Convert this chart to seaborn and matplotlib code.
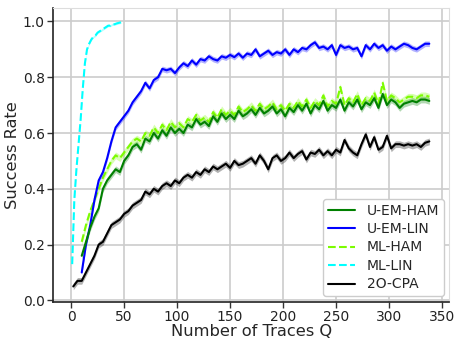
import numpy as np
import matplotlib
matplotlib.use("Agg")
import matplotlib.pyplot as plt
import seaborn as sns

# success rate vs number of traces
# U-EM curves and ML-HAM: Q = 10, 14, ..., 338
u_em_lin = [0.10, 0.20, 0.27, 0.36, 0.43, 0.46, 0.51, 0.57, 0.62, 0.64,
            0.66, 0.68, 0.71, 0.73, 0.75, 0.78, 0.76, 0.79, 0.80, 0.83,
            0.825, 0.83, 0.815, 0.835, 0.85, 0.84, 0.86, 0.845, 0.865, 0.86,
            0.875, 0.865, 0.86, 0.875, 0.87, 0.88, 0.872, 0.885, 0.87, 0.885,
            0.88, 0.90, 0.875, 0.885, 0.895, 0.88, 0.89, 0.885, 0.90, 0.88,
            0.90, 0.89, 0.905, 0.90, 0.915, 0.925, 0.905, 0.91, 0.90, 0.915,
            0.88, 0.915, 0.905, 0.91, 0.90, 0.905, 0.875, 0.915, 0.90, 0.92,
            0.905, 0.915, 0.895, 0.91, 0.90, 0.91, 0.92, 0.915, 0.905, 0.90,
            0.91, 0.92, 0.92]
u_em_ham = [0.16, 0.21, 0.26, 0.30, 0.33, 0.40, 0.43, 0.45, 0.47, 0.46,
            0.50, 0.52, 0.55, 0.56, 0.54, 0.58, 0.57, 0.60, 0.58, 0.61,
            0.59, 0.62, 0.60, 0.615, 0.60, 0.63, 0.62, 0.65, 0.63, 0.64,
            0.625, 0.66, 0.64, 0.67, 0.65, 0.665, 0.65, 0.68, 0.66, 0.67,
            0.685, 0.665, 0.69, 0.67, 0.68, 0.695, 0.67, 0.685, 0.66, 0.69,
            0.675, 0.70, 0.68, 0.705, 0.67, 0.70, 0.685, 0.715, 0.68, 0.70,
            0.69, 0.72, 0.68, 0.71, 0.695, 0.72, 0.685, 0.71, 0.70, 0.725,
            0.69, 0.74, 0.70, 0.72, 0.71, 0.69, 0.705, 0.71, 0.715, 0.71,
            0.72, 0.72, 0.715]
ml_ham = [0.21, 0.27, 0.32, 0.36, 0.40, 0.44, 0.47, 0.50, 0.52, 0.51,
          0.53, 0.55, 0.57, 0.58, 0.57, 0.60, 0.59, 0.62, 0.60, 0.63,
          0.61, 0.64, 0.62, 0.635, 0.62, 0.65, 0.64, 0.665, 0.645, 0.655,
          0.64, 0.675, 0.655, 0.685, 0.665, 0.68, 0.665, 0.695, 0.675, 0.685,
          0.70, 0.68, 0.705, 0.685, 0.695, 0.71, 0.685, 0.70, 0.68, 0.705,
          0.69, 0.715, 0.695, 0.72, 0.69, 0.715, 0.70, 0.735, 0.695, 0.715,
          0.705, 0.765, 0.70, 0.725, 0.71, 0.74, 0.70, 0.725, 0.715, 0.745,
          0.705, 0.78, 0.715, 0.735, 0.725, 0.71, 0.72, 0.73, 0.73, 0.725,
          0.735, 0.735, 0.73]
q_em = list(range(10, 339, 4))

# 2O-CPA: Q = 2, 6, ..., 338
cpa = [0.05, 0.07, 0.07, 0.10, 0.13, 0.16, 0.20, 0.21, 0.24, 0.27,
       0.28, 0.29, 0.31, 0.32, 0.34, 0.35, 0.36, 0.39, 0.38, 0.40,
       0.39, 0.41, 0.42, 0.41, 0.43, 0.42, 0.44, 0.45, 0.44, 0.46,
       0.45, 0.47, 0.46, 0.48, 0.47, 0.48, 0.49, 0.475, 0.50, 0.485,
       0.49, 0.50, 0.51, 0.49, 0.52, 0.50, 0.47, 0.51, 0.52, 0.50,
       0.51, 0.53, 0.51, 0.525, 0.535, 0.505, 0.53, 0.525, 0.54, 0.52,
       0.535, 0.52, 0.54, 0.53, 0.575, 0.545, 0.53, 0.52, 0.56, 0.595,
       0.55, 0.585, 0.54, 0.55, 0.59, 0.545, 0.56, 0.56, 0.555, 0.56,
       0.555, 0.56, 0.55, 0.565, 0.57]
q_cpa = list(range(2, 339, 4))

# ML-LIN: Q = 1, 3, ..., 47
ml_lin = [0.13, 0.36, 0.47, 0.56, 0.65, 0.76, 0.85, 0.90, 0.92, 0.935,
          0.945, 0.95, 0.96, 0.965, 0.97, 0.975, 0.98, 0.985, 0.985, 0.99,
          0.99, 0.993, 0.995, 0.997]
q_ml_lin = list(range(1, 48, 2))

# half width of the shaded band per curve
band = {"U-EM-HAM": 0.012, "U-EM-LIN": 0.01, "ML-HAM": 0.012,
        "ML-LIN": 0.004, "2O-CPA": 0.012}

series = [
    ("U-EM-HAM", q_em, u_em_ham, "green", "-", 4),
    ("U-EM-LIN", q_em, u_em_lin, "blue", "-", 3),
    ("ML-HAM", q_em, ml_ham, "lawngreen", "--", 2),
    ("ML-LIN", q_ml_lin, ml_lin, "cyan", "--", 2),
    ("2O-CPA", q_cpa, cpa, "black", "-", 3),
]

sns.set_style("whitegrid")
plt.rcParams["font.family"] = ["DejaVu Sans"]

fig, ax = plt.subplots(figsize=(4.54, 3.41), dpi=100)
fig.subplots_adjust(left=0.117, right=0.99, top=0.978, bottom=0.115)

for name, q, y, c, ls, z in series:
    y = np.asarray(y)
    ax.fill_between(q, y - band[name], y + band[name], color=c, alpha=0.3,
                    lw=0, zorder=z)
    sns.lineplot(x=q, y=y, ax=ax, color=c, linestyle=ls, lw=1.5,
                 label=name, zorder=z + 0.5)

ax.set_xlim(-17, 357)
ax.set_ylim(-0.005, 1.05)
ax.set_xticks(range(0, 351, 50))
ax.set_yticks(np.arange(0, 1.01, 0.2))
ax.set_xlabel("Number of Traces Q", fontsize=11.7, labelpad=0)
ax.set_ylabel("Success Rate", fontsize=11.7, labelpad=2)
ax.tick_params(labelsize=10, length=4, width=1, color="#333333",
               labelcolor="#222222", left=True, bottom=True, pad=2)
ax.grid(color="#cccccc", lw=1.2)
for s in ["left", "bottom"]:
    ax.spines[s].set_color("#222222")
    ax.spines[s].set_linewidth(1.2)
for s in ["top", "right"]:
    ax.spines[s].set_color("#dddddd")

ax.legend(loc="lower right", fontsize=10, labelspacing=0.32,
          frameon=True, edgecolor="#cccccc", framealpha=1,
          handlelength=2, borderpad=0.35, borderaxespad=0.4)

fig.savefig("out.png", dpi=100)
